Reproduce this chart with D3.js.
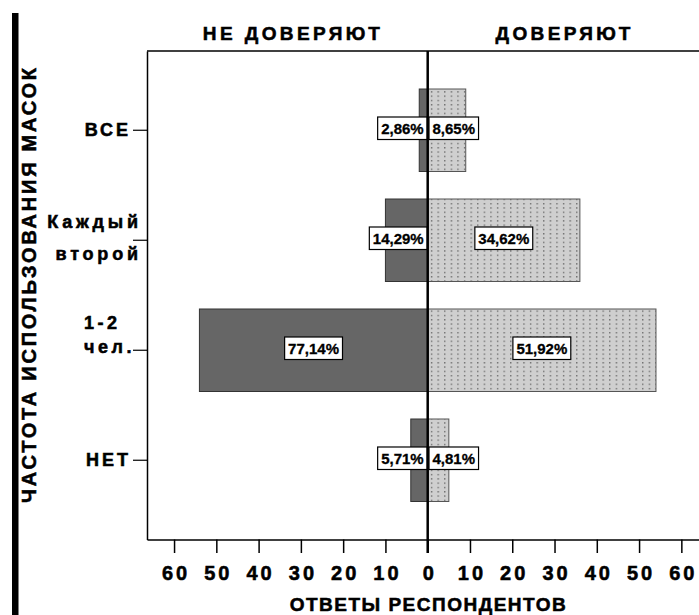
<!DOCTYPE html>
<html><head><meta charset="utf-8">
<script src="https://cdn.jsdelivr.net/npm/d3@7"></script>
<style>body{margin:0;background:#fff}svg{display:block}text{font-family:"Liberation Sans",Arial,sans-serif;font-weight:bold;fill:#000}
.heavy{stroke:#000;stroke-width:0.55px;paint-order:fill}</style>
</head><body><div id="chart"></div>
<script>
// ---- data ----
const categories = ["ВСЕ", "Каждый второй", "1-2 чел.", "НЕТ"];
const categoryLines = [["ВСЕ"], ["Каждый", "второй"], ["1-2", "чел."], ["НЕТ"]];
const distrustCounts = [2, 10, 54, 4];     // НЕ ДОВЕРЯЮТ (n = 70)
const trustCounts = [9, 36, 54, 5];        // ДОВЕРЯЮТ (n = 104)
const distrustPct = [2.86, 14.29, 77.14, 5.71];
const trustPct = [8.65, 34.62, 51.92, 4.81];
const tickValues = [-60, -50, -40, -30, -20, -10, 0, 10, 20, 30, 40, 50, 60];
const headerLeft = "НЕ ДОВЕРЯЮТ", headerRight = "ДОВЕРЯЮТ";
const xTitle = "ОТВЕТЫ РЕСПОНДЕНТОВ", yTitle = "ЧАСТОТА ИСПОЛЬЗОВАНИЯ МАСОК";

(function () {
// ---- layout ----
const W = 699, H = 615;
const plotTop = 51, plotBottom = 539.5, plotLeft = 147;
const svg = d3.select("#chart").append("svg").attr("width", W).attr("height", H);
const defs = svg.append("defs");
const pat = defs.append("pattern").attr("id", "dots").attr("patternUnits", "userSpaceOnUse")
  .attr("width", 6.6).attr("height", 4.3);
pat.append("rect").attr("width", 6.6).attr("height", 4.3).attr("fill", "#cfcfcf");
pat.append("rect").attr("x", 2).attr("y", 1).attr("width", 1.2).attr("height", 1.2).attr("fill", "#4a4a4a");

const x = d3.scaleLinear().domain([-66.4, 66.4]).range([plotLeft, 708.4]);
const y = d3.scaleBand().domain(categories).range([plotTop, plotBottom]).paddingInner(0.25).paddingOuter(0.3455);
const fmt = v => d3.format(".2f")(v).replace(".", ",") + "%";

// black side bar
svg.append("rect").attr("x", 12).attr("y", 13).attr("width", 6.5).attr("height", H - 13).attr("fill", "#000");

// frame top
svg.append("line").attr("x1", plotLeft).attr("x2", W + 20).attr("y1", plotTop).attr("y2", plotTop)
  .attr("stroke", "#000").attr("stroke-width", 1.5);

// bars
const rows = categories.map((c, i) => ({c, i, dn: distrustCounts[i], tn: trustCounts[i], dp: distrustPct[i], tp: trustPct[i]}));
svg.append("g").selectAll("rect").data(rows).join("rect")
  .attr("x", d => x(-d.dn)).attr("width", d => x(0) - x(-d.dn))
  .attr("y", d => y(d.c)).attr("height", y.bandwidth())
  .attr("fill", "#666").attr("stroke", "#333").attr("stroke-width", 1);
svg.append("g").selectAll("rect").data(rows).join("rect")
  .attr("x", x(0)).attr("width", d => x(d.tn) - x(0))
  .attr("y", d => y(d.c)).attr("height", y.bandwidth())
  .attr("fill", "url(#dots)").attr("stroke", "#555").attr("stroke-width", 1);

// axes
const xAxis = svg.append("g").attr("transform", `translate(0,${plotBottom})`)
  .call(d3.axisBottom(x).tickValues(tickValues).tickSize(13.5).tickSizeOuter(0).tickFormat(d => Math.abs(d)));
xAxis.select(".domain").attr("stroke-width", 1.5);
xAxis.selectAll(".tick line").attr("stroke-width", 1.5);
xAxis.selectAll(".tick text").attr("y", 40.5).attr("dy", 0).attr("dx", 1.5).attr("class", "heavy")
  .style("font-size", "20px").style("letter-spacing", "3px").attr("fill", "#000")
  .style("font-family", '"Liberation Sans",Arial,sans-serif').style("font-weight", "bold");

const yAxis = svg.append("g").attr("transform", `translate(${plotLeft},0)`)
  .call(d3.axisLeft(y).tickSize(14).tickSizeOuter(0).tickFormat(""));
yAxis.select(".domain").attr("stroke-width", 1.5);
yAxis.selectAll(".tick line").attr("stroke-width", 1.2);

// category labels
const labelLayout = [
  {anchor: "end", x: 128, dys: [6], ls: 3},
  {anchor: "end", x: 138, dys: [-12.5, 19.5], ls: 3.8},
  {anchor: "start", x: 84, dys: [-21, 3], ls: 3.5},
  {anchor: "end", x: 128, dys: [6], ls: 3}
];
categoryLines.forEach((lines, i) => {
  const cy = y(categories[i]) + y.bandwidth() / 2;
  const L = labelLayout[i];
  lines.forEach((t, j) => {
    svg.append("text").attr("class", "heavy").attr("x", L.x + (L.anchor === "end" ? L.ls : 0)).attr("y", cy + L.dys[j])
      .attr("text-anchor", L.anchor).style("font-size", "18px").style("letter-spacing", L.ls + "px")
      .text(t);
  });
});

// value labels
function addLabel(text, cx, cy, side, barW) {
  const g = svg.append("g");
  const tx = g.append("text").attr("text-anchor", "middle").style("font-size", "15px")
    .attr("stroke", "#000").attr("stroke-width", 0.3).text(text);
  const tw = tx.node().getComputedTextLength();
  const bw = tw + 7, bh = 22.5;
  let mid;
  if (barW > bw + 4) mid = cx;
  else mid = side < 0 ? x(0) - 0.5 - bw / 2 : x(0) + 1.3 + bw / 2;
  g.insert("rect", "text").attr("x", mid - bw / 2).attr("y", cy - bh / 2).attr("width", bw).attr("height", bh)
    .attr("fill", "#fff").attr("stroke", "#000").attr("stroke-width", 1.2);
  tx.attr("x", mid).attr("y", cy + 5.3);
}
rows.forEach(d => {
  const cy = y(d.c) + y.bandwidth() / 2 - 2;
  addLabel(fmt(d.dp), (x(-d.dn) + x(0)) / 2, cy, -1, x(0) - x(-d.dn));
  addLabel(fmt(d.tp), (x(d.tn) + x(0)) / 2, cy, 1, x(d.tn) - x(0));
});

// center line
svg.append("line").attr("x1", x(0)).attr("x2", x(0)).attr("y1", plotTop).attr("y2", plotBottom + 13.5)
  .attr("stroke", "#000").attr("stroke-width", 2.5);

// headers & titles
svg.append("text").attr("class", "heavy").attr("x", (plotLeft + x(0)) / 2 + 4).attr("y", 40).attr("text-anchor", "middle")
  .style("font-size", "19px").attr("textLength", 177).attr("lengthAdjust", "spacing").text(headerLeft);
svg.append("text").attr("class", "heavy").attr("x", x(32)).attr("y", 40).attr("text-anchor", "middle")
  .style("font-size", "19px").attr("textLength", 135).attr("lengthAdjust", "spacing").text(headerRight);
svg.append("text").attr("class", "heavy").attr("x", x(0)).attr("y", 611).attr("text-anchor", "middle")
  .style("font-size", "19px").attr("textLength", 276).attr("lengthAdjust", "spacing").text(xTitle);
svg.append("text").attr("class", "heavy").attr("transform", "translate(36,285.5) rotate(-90)").attr("text-anchor", "middle")
  .style("font-size", "20px").attr("textLength", 435).attr("lengthAdjust", "spacing").text(yTitle);
})();
</script></body></html>
